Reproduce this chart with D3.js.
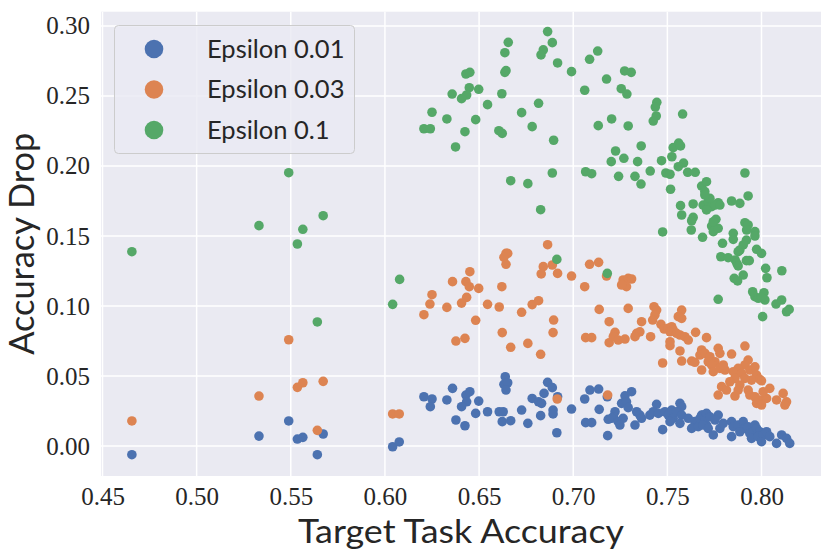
<!DOCTYPE html>
<html>
<head>
<meta charset="utf-8">
<script src="https://cdn.jsdelivr.net/npm/d3@7"></script>
<style>
  body { margin: 0; background: #fff; }
  svg { display: block; }
</style>
</head>
<body>
<div id="chart"></div>
<script>
// target task accuracy / accuracy drop pairs
const eps001 = [
  [0.5489, 0.0179], [0.5331, 0.0071], [0.5672, 0.0086], [0.5564, 0.0062], [0.5535, 0.0050],
  [0.4656, -0.0062], [0.5641, -0.0062],
  [0.6041, -0.0005], [0.6076, 0.0029], [0.6207, 0.0352], [0.6250, 0.0336], [0.6241, 0.0281],
  [0.6329, 0.0329], [0.6359, 0.0412], [0.6430, 0.0364], [0.6451, 0.0388], [0.6434, 0.0316],
  [0.6407, 0.0281], [0.6498, 0.0321], [0.6377, 0.0186], [0.6425, 0.0145], [0.6482, 0.0233],
  [0.6545, 0.0245], [0.6607, 0.0245], [0.6628, 0.0245], [0.6623, 0.0174], [0.6668, 0.0181],
  [0.6639, 0.0495], [0.6632, 0.0441], [0.6652, 0.0452], [0.6643, 0.0400], [0.6726, 0.0257],
  [0.6759, 0.0162], [0.6782, 0.0340], [0.6816, 0.0316], [0.6832, 0.0305], [0.6827, 0.0217],
  [0.6845, 0.0376], [0.6864, 0.0455], [0.6889, 0.0417], [0.6917, 0.0352], [0.6893, 0.0257],
  [0.6893, 0.0229], [0.6913, 0.0095], [0.6991, 0.0264], [0.7061, 0.0336], [0.7089, 0.0400],
  [0.7135, 0.0407], [0.7181, 0.0352], [0.7138, 0.0262], [0.7066, 0.0167], [0.7098, 0.0167],
  [0.7186, 0.0191], [0.7183, 0.0074],
  [0.7275, 0.0359], [0.7310, 0.0388], [0.7257, 0.0305], [0.7283, 0.0316], [0.7292, 0.0274],
  [0.7222, 0.0245], [0.7213, 0.0209], [0.7204, 0.0198], [0.7239, 0.0174], [0.7265, 0.0198],
  [0.7248, 0.0150], [0.7337, 0.0245], [0.7354, 0.0221], [0.7328, 0.0150], [0.7363, 0.0198],
  [0.7407, 0.0221], [0.7443, 0.0298], [0.7425, 0.0245], [0.7452, 0.0233], [0.7475, 0.0117],
  [0.7487, 0.0245], [0.7505, 0.0221], [0.7523, 0.0257], [0.7531, 0.0198], [0.7514, 0.0174],
  [0.7567, 0.0305], [0.7576, 0.0281], [0.7549, 0.0245], [0.7576, 0.0221], [0.7567, 0.0162],
  [0.7611, 0.0198], [0.7646, 0.0174], [0.7629, 0.0126], [0.7673, 0.0198], [0.7690, 0.0221],
  [0.7708, 0.0150], [0.7664, 0.0138],
  [0.7682, 0.0221], [0.7700, 0.0198], [0.7708, 0.0233], [0.7726, 0.0209], [0.7770, 0.0221],
  [0.7753, 0.0186], [0.7690, 0.0150], [0.7717, 0.0126], [0.7744, 0.0079], [0.7779, 0.0126],
  [0.7797, 0.0162], [0.7841, 0.0174], [0.7850, 0.0138], [0.7841, 0.0067], [0.7876, 0.0150],
  [0.7903, 0.0174], [0.7912, 0.0126], [0.7885, 0.0102], [0.7929, 0.0138], [0.7938, 0.0090],
  [0.7965, 0.0150], [0.7956, 0.0102], [0.7974, 0.0126], [0.7947, 0.0055], [0.7991, 0.0102],
  [0.7982, 0.0067], [0.8009, 0.0079], [0.8027, 0.0102], [0.8000, 0.0031], [0.8044, 0.0067],
  [0.8080, 0.0019], [0.8107, 0.0079], [0.8133, 0.0055], [0.8150, 0.0019]
];

const eps003 = [
  [0.5489, 0.0759], [0.5672, 0.0462], [0.5564, 0.0452], [0.5535, 0.0419], [0.5331, 0.0357],
  [0.4656, 0.0179], [0.5641, 0.0112],
  [0.6864, 0.1438], [0.6643, 0.1376], [0.6652, 0.1376], [0.6632, 0.1348], [0.6643, 0.1298],
  [0.6841, 0.1281], [0.6889, 0.1293], [0.6830, 0.1229], [0.6917, 0.1233], [0.6991, 0.1214],
  [0.7087, 0.1298], [0.7135, 0.1312], [0.7061, 0.1138], [0.7177, 0.1214], [0.6451, 0.1245],
  [0.6359, 0.1174], [0.6430, 0.1174], [0.6448, 0.1138], [0.6498, 0.1126], [0.6621, 0.1138],
  [0.6250, 0.1081], [0.6239, 0.1014], [0.6329, 0.0990], [0.6434, 0.1062], [0.6407, 0.1021],
  [0.6207, 0.0938], [0.6545, 0.1012], [0.6607, 0.0993], [0.6482, 0.0898], [0.6726, 0.0955],
  [0.6782, 0.1010], [0.6816, 0.1038], [0.6896, 0.0900], [0.6893, 0.0810], [0.6623, 0.0810],
  [0.6377, 0.0750], [0.6425, 0.0769], [0.6668, 0.0705], [0.6759, 0.0733], [0.6827, 0.0655],
  [0.7138, 0.0976], [0.7191, 0.0888], [0.7066, 0.0774], [0.7098, 0.0774], [0.7191, 0.0738],
  [0.6041, 0.0229], [0.6076, 0.0229], [0.6915, 0.0336], [0.7183, 0.0364],
  [0.7265, 0.1186], [0.7292, 0.1198], [0.7310, 0.1193], [0.7283, 0.1138], [0.7257, 0.1150],
  [0.7292, 0.0983], [0.7222, 0.0812], [0.7213, 0.0781], [0.7239, 0.0757], [0.7275, 0.0764],
  [0.7363, 0.0888], [0.7337, 0.0805], [0.7354, 0.0816], [0.7328, 0.0781], [0.7411, 0.0781],
  [0.7429, 0.0995], [0.7443, 0.0971], [0.7434, 0.0936], [0.7422, 0.0900], [0.7466, 0.0869],
  [0.7483, 0.0836], [0.7505, 0.0841], [0.7523, 0.0852], [0.7531, 0.0829], [0.7514, 0.0816],
  [0.7576, 0.0971], [0.7558, 0.0924], [0.7576, 0.0912], [0.7514, 0.0745], [0.7514, 0.0717],
  [0.7549, 0.0805], [0.7567, 0.0793], [0.7593, 0.0781], [0.7611, 0.0757], [0.7650, 0.0812],
  [0.7708, 0.0774], [0.7567, 0.0679], [0.7576, 0.0607], [0.7475, 0.0593], [0.7629, 0.0607],
  [0.7646, 0.0598],
  [0.7912, 0.0714], [0.7841, 0.0657], [0.7682, 0.0686], [0.7673, 0.0650], [0.7700, 0.0662],
  [0.7726, 0.0638], [0.7770, 0.0698], [0.7779, 0.0662], [0.7753, 0.0602], [0.7717, 0.0602],
  [0.7735, 0.0579], [0.7682, 0.0543], [0.7744, 0.0531], [0.7779, 0.0555], [0.7806, 0.0543],
  [0.7797, 0.0579], [0.7929, 0.0614], [0.7912, 0.0579], [0.7876, 0.0555], [0.7850, 0.0531],
  [0.7894, 0.0519], [0.7938, 0.0543], [0.7965, 0.0566], [0.7974, 0.0507], [0.7947, 0.0471],
  [0.7912, 0.0483], [0.7859, 0.0483], [0.7832, 0.0459], [0.7885, 0.0436], [0.7991, 0.0476],
  [0.8000, 0.0466], [0.7788, 0.0424], [0.7814, 0.0400], [0.7770, 0.0364], [0.7859, 0.0357],
  [0.7876, 0.0400], [0.7929, 0.0400], [0.7938, 0.0364], [0.7965, 0.0352], [0.7991, 0.0329],
  [0.8027, 0.0340], [0.8044, 0.0412], [0.8009, 0.0388], [0.7974, 0.0305], [0.8000, 0.0293],
  [0.8080, 0.0329], [0.8115, 0.0376], [0.8133, 0.0316], [0.8124, 0.0293]
];

const eps01 = [
  [0.5489, 0.1952], [0.5672, 0.1645], [0.5331, 0.1574], [0.5564, 0.1548], [0.5535, 0.1443],
  [0.4656, 0.1388], [0.5641, 0.0886],
  [0.6864, 0.2960], [0.6889, 0.2881], [0.6655, 0.2883], [0.6637, 0.2809], [0.6841, 0.2829],
  [0.6829, 0.2793], [0.7130, 0.2821], [0.7087, 0.2762], [0.6917, 0.2736], [0.6991, 0.2674],
  [0.6637, 0.2669], [0.6643, 0.2681], [0.6430, 0.2657], [0.6451, 0.2669], [0.7061, 0.2541],
  [0.6448, 0.2559], [0.6498, 0.2548], [0.6357, 0.2514], [0.6434, 0.2507], [0.6407, 0.2481],
  [0.6621, 0.2516], [0.6545, 0.2438], [0.6816, 0.2448], [0.6726, 0.2381], [0.6250, 0.2384],
  [0.6329, 0.2336], [0.6482, 0.2331], [0.6207, 0.2266], [0.6241, 0.2266], [0.6782, 0.2281],
  [0.6425, 0.2245], [0.6605, 0.2252], [0.6623, 0.2233], [0.7133, 0.2288], [0.6896, 0.2184],
  [0.6375, 0.2136], [0.6889, 0.1950], [0.7066, 0.1959], [0.7098, 0.1945], [0.6668, 0.1895],
  [0.6759, 0.1874], [0.6827, 0.1688],
  [0.7273, 0.2679], [0.7308, 0.2669], [0.7177, 0.2621], [0.7255, 0.2552], [0.7285, 0.2514],
  [0.7444, 0.2455], [0.7436, 0.2421], [0.7441, 0.2357], [0.7425, 0.2321], [0.7581, 0.2371],
  [0.7204, 0.2336], [0.7292, 0.2286], [0.7361, 0.2143], [0.7225, 0.2107], [0.7269, 0.2055],
  [0.7202, 0.2031], [0.7342, 0.2031], [0.7469, 0.2038], [0.7524, 0.2066], [0.7531, 0.2131],
  [0.7560, 0.2164], [0.7570, 0.2143], [0.7586, 0.2021], [0.7558, 0.1995], [0.7241, 0.1926],
  [0.7328, 0.1926], [0.7409, 0.1964], [0.7492, 0.1950], [0.7514, 0.1941], [0.7608, 0.1955],
  [0.7648, 0.1955], [0.7912, 0.1950],
  [0.7360, 0.1871], [0.7682, 0.1857], [0.7708, 0.1888], [0.7699, 0.1817], [0.7517, 0.1834],
  [0.7929, 0.1786], [0.7841, 0.1750], [0.7885, 0.1733], [0.7570, 0.1717], [0.7637, 0.1729],
  [0.7690, 0.1721], [0.7717, 0.1745], [0.7735, 0.1710], [0.7770, 0.1738], [0.7708, 0.1686],
  [0.7753, 0.1721], [0.7779, 0.1721], [0.7726, 0.1769], [0.7699, 0.1793],
  [0.7576, 0.1650], [0.7637, 0.1633], [0.7629, 0.1609], [0.7758, 0.1619],
  [0.7735, 0.1571], [0.7753, 0.1555], [0.7744, 0.1531], [0.7770, 0.1555], [0.7744, 0.1602],
  [0.7627, 0.1543], [0.7475, 0.1529], [0.7687, 0.1491], [0.7912, 0.1595], [0.7929, 0.1579],
  [0.7921, 0.1543], [0.7965, 0.1531], [0.7965, 0.1500], [0.7850, 0.1519], [0.7850, 0.1476],
  [0.7793, 0.1448], [0.7920, 0.1471], [0.7903, 0.1436], [0.7885, 0.1400], [0.7876, 0.1388],
  [0.7974, 0.1405], [0.8000, 0.1376], [0.7784, 0.1352], [0.7823, 0.1345], [0.7860, 0.1329],
  [0.7869, 0.1305], [0.7876, 0.1286], [0.7920, 0.1324], [0.7935, 0.1324], [0.8022, 0.1269],
  [0.8108, 0.1252], [0.7903, 0.1221], [0.7855, 0.1198], [0.7873, 0.1179], [0.8029, 0.1202],
  [0.7770, 0.1048], [0.7953, 0.1102], [0.7965, 0.1067], [0.8013, 0.1095], [0.8018, 0.1043],
  [0.7983, 0.1055], [0.8000, 0.1062], [0.8077, 0.1014], [0.8107, 0.1043], [0.8133, 0.0959],
  [0.8147, 0.0976], [0.8006, 0.0924],
  [0.6078, 0.1190], [0.6041, 0.1012], [0.6913, 0.1333], [0.7181, 0.1233]
];

const seriesNames = ['Epsilon 0.01', 'Epsilon 0.03', 'Epsilon 0.1'];
const seriesData = [eps001, eps003, eps01];
const colors = ['#4C72B0', '#DD8452', '#55A868'];
const xTicks = [0.45, 0.50, 0.55, 0.60, 0.65, 0.70, 0.75, 0.80];
const yTicks = [0.00, 0.05, 0.10, 0.15, 0.20, 0.25, 0.30];

const width = 830, height = 554;
const margin = { top: 11.7, right: 9, bottom: 78, left: 101 };

const svg = d3.select('#chart')
  .append('svg')
  .attr('width', width)
  .attr('height', height);

const x = d3.scaleLinear()
  .domain([0.4492, 0.8316])
  .range([margin.left, width - margin.right]);

const y = d3.scaleLinear()
  .domain([-0.0214, 0.3102])
  .range([height - margin.bottom, margin.top]);

// plot background
svg.append('rect')
  .attr('x', margin.left)
  .attr('y', margin.top)
  .attr('width', width - margin.left - margin.right)
  .attr('height', height - margin.top - margin.bottom)
  .attr('fill', '#EAEAF2');

// grid
svg.append('g')
  .selectAll('line')
  .data(xTicks)
  .join('line')
  .attr('x1', d => x(d)).attr('x2', d => x(d))
  .attr('y1', margin.top).attr('y2', height - margin.bottom)
  .attr('stroke', '#fff').attr('stroke-width', 1.5);

svg.append('g')
  .selectAll('line')
  .data(yTicks)
  .join('line')
  .attr('y1', d => y(d)).attr('y2', d => y(d))
  .attr('x1', margin.left).attr('x2', width - margin.right)
  .attr('stroke', '#fff').attr('stroke-width', 1.5);

// axes (labels only, seaborn style)
const tickFont = '"Liberation Serif", "DejaVu Serif", serif';

const xAxis = svg.append('g')
  .attr('transform', `translate(0, ${height - margin.bottom})`)
  .call(d3.axisBottom(x).tickValues(xTicks).tickFormat(d3.format('.2f')).tickSize(0).tickPadding(11));
xAxis.select('.domain').remove();
xAxis.selectAll('text')
  .attr('font-family', tickFont)
  .attr('font-size', 25)
  .attr('fill', '#262626');

const yAxis = svg.append('g')
  .attr('transform', `translate(${margin.left}, 0)`)
  .call(d3.axisLeft(y).tickValues(yTicks).tickFormat(d3.format('.2f')).tickSize(0).tickPadding(11));
yAxis.select('.domain').remove();
yAxis.selectAll('text')
  .attr('font-family', tickFont)
  .attr('font-size', 25)
  .attr('fill', '#262626');

// points
seriesData.forEach((pts, i) => {
  svg.append('g')
    .selectAll('circle')
    .data(pts)
    .join('circle')
    .attr('cx', d => x(d[0]))
    .attr('cy', d => y(d[1]))
    .attr('r', 4.8)
    .attr('fill', colors[i]);
});

// axis titles
const labelFont = 'Lato, "Open Sans", sans-serif';

svg.append('text')
  .attr('x', (margin.left + width - margin.right) / 2)
  .attr('y', 543)
  .attr('text-anchor', 'middle')
  .attr('font-family', labelFont)
  .attr('font-size', 33)
  .attr('fill', '#262626')
  .attr('textLength', 326)
  .attr('lengthAdjust', 'spacingAndGlyphs')
  .text('Target Task Accuracy');

svg.append('text')
  .attr('transform', `translate(34, ${(margin.top + height - margin.bottom) / 2}) rotate(-90)`)
  .attr('text-anchor', 'middle')
  .attr('font-family', labelFont)
  .attr('font-size', 35)
  .attr('fill', '#262626')
  .attr('textLength', 222)
  .attr('lengthAdjust', 'spacingAndGlyphs')
  .text('Accuracy Drop');

// legend
const legend = svg.append('g');
legend.append('rect')
  .attr('x', 114.5).attr('y', 25.5)
  .attr('width', 240).attr('height', 128)
  .attr('rx', 4)
  .attr('fill', '#EAEAF2').attr('fill-opacity', 0.8)
  .attr('stroke', '#CCCCCC').attr('stroke-width', 1);

seriesNames.forEach((name, i) => {
  const cy = 49 + i * 40.5;
  legend.append('circle')
    .attr('cx', 154).attr('cy', cy).attr('r', 9.3)
    .attr('fill', colors[i]);
  legend.append('text')
    .attr('x', 207).attr('y', cy + 8.5)
    .attr('font-family', labelFont)
    .attr('font-size', 25.5)
    .attr('fill', '#262626')
    .text(name);
});
</script>
</body>
</html>
